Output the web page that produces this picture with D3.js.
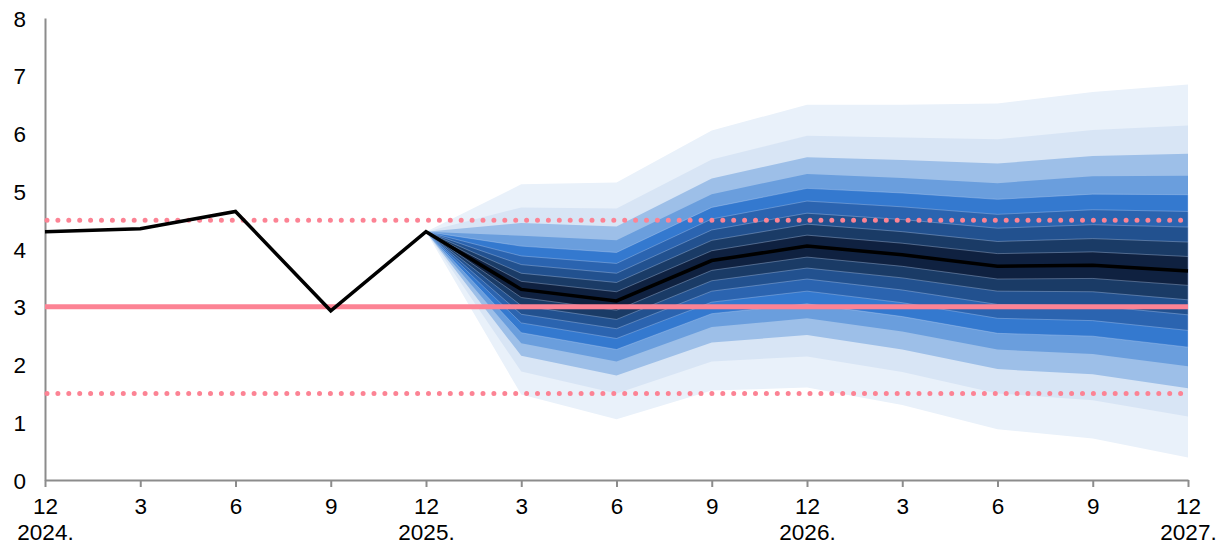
<!DOCTYPE html>
<html>
<head>
<meta charset="utf-8">
<script src="https://cdn.jsdelivr.net/npm/d3@7"></script>
<style>
  body { margin: 0; background: #fff; }
  svg { font-family: "Liberation Sans", Arial, sans-serif; }
  .axis path, .axis line { stroke: #8c8c8c; stroke-width: 2; }
  .axis text { fill: #000; font-size: 22.5px; }
</style>
</head>
<body>
<svg width="1221" height="546"></svg>
<script>
// quarter labels along the x axis
const months = ["12", "3", "6", "9", "12", "3", "6", "9", "12", "3", "6", "9", "12"];
const years = ["2024.", "", "", "", "2025.", "", "", "", "2026.", "", "", "", "2027."];
const yTicks = [0, 1, 2, 3, 4, 5, 6, 7, 8];

// actual + central projection
const inflation = [4.3, 4.35, 4.65, 2.93, 4.3, 3.3, 3.1, 3.8, 4.05, 3.9, 3.7, 3.72, 3.62];

// fan starts at 2025 Q4 (index 4); half widths of each probability band around the centre
const fanStart = 4;
const band90 = [0, 1.82, 2.05, 2.25, 2.45, 2.6, 2.82, 3.0, 3.23];
const band80 = [0, 1.42, 1.6, 1.75, 1.91, 2.03, 2.2, 2.34, 2.52];
const band70 = [0, 1.15, 1.29, 1.42, 1.54, 1.64, 1.78, 1.89, 2.03];
const band60 = [0, 0.93, 1.05, 1.15, 1.25, 1.33, 1.44, 1.54, 1.65];
const band50 = [0, 0.75, 0.84, 0.92, 1.0, 1.07, 1.16, 1.23, 1.32];
const band40 = [0, 0.58, 0.65, 0.72, 0.78, 0.83, 0.9, 0.96, 1.03];
const band30 = [0, 0.43, 0.48, 0.53, 0.57, 0.61, 0.66, 0.7, 0.76];
const band20 = [0, 0.28, 0.32, 0.35, 0.38, 0.4, 0.43, 0.46, 0.5];
const band10 = [0, 0.14, 0.16, 0.17, 0.19, 0.2, 0.22, 0.23, 0.25];
const bandColors = ["#e9f1fa", "#d8e5f5", "#9dbfe8", "#6a9edd", "#3479cf",
                    "#2b64b0", "#22518f", "#1a3b66", "#0f2140"];

// inflation target and tolerance band
const target = 3;
const tolerance = [1.5, 4.5];

const svg = d3.select("svg");
const plotLeft = 45, plotRight = 1188, plotTop = 18, plotBottom = 480;

const x = d3.scaleLinear().domain([0, months.length - 1]).range([plotLeft, plotRight]);
const y = d3.scaleLinear().domain([0, 8]).range([plotBottom, plotTop]);

// Fan, outermost band first
const fanCentre = inflation.slice(fanStart);
const bands = [band90, band80, band70, band60, band50, band40, band30, band20, band10];
bands.forEach(function (hw, i) {
  const area = d3.area()
    .x(function (d, j) { return x(fanStart + j); })
    .y0(function (d, j) { return y(d - hw[j]); })
    .y1(function (d, j) { return y(d + hw[j]); });
  svg.append("path")
    .datum(fanCentre)
    .attr("d", area)
    .attr("fill", bandColors[i])
    .attr("stroke", i >= 4 ? "rgba(190,210,240,0.45)" : "none")
    .attr("stroke-width", 0.8);
});

// Axes
svg.append("g")
  .attr("class", "axis")
  .attr("transform", "translate(0," + plotBottom + ")")
  .call(d3.axisBottom(x).tickValues(d3.range(months.length)).tickSize(7).tickSizeOuter(0)
    .tickFormat(function (d) { return months[d]; }))
  .call(function (g) {
    g.selectAll(".tick text").attr("dy", null).attr("y", 34);
    g.selectAll(".tick").append("text")
      .attr("y", 60)
      .attr("fill", "#000")
      .text(function (d) { return years[d]; });
  });

svg.append("g")
  .attr("class", "axis")
  .attr("transform", "translate(" + plotLeft + ",0)")
  .call(d3.axisLeft(y).tickValues(yTicks).tickSize(0).tickPadding(19))
  .call(function (g) { g.selectAll(".tick text").attr("dy", "0.36em"); });

// Tolerance band (dotted) and target
tolerance.forEach(function (v) {
  svg.append("line")
    .attr("x1", plotLeft + 2).attr("x2", plotRight)
    .attr("y1", y(v)).attr("y2", y(v))
    .attr("stroke", "#fc8394")
    .attr("stroke-width", 5)
    .attr("stroke-linecap", "round")
    .attr("stroke-dasharray", "0 10.9");
});
svg.append("line")
  .attr("x1", plotLeft).attr("x2", plotRight)
  .attr("y1", y(target)).attr("y2", y(target))
  .attr("stroke", "#fc8394")
  .attr("stroke-width", 5);

// Inflation line
svg.append("path")
  .datum(inflation)
  .attr("fill", "none")
  .attr("stroke", "#000")
  .attr("stroke-width", 3.5)
  .attr("stroke-linejoin", "miter")
  .attr("d", d3.line().x(function (d, i) { return x(i); }).y(function (d) { return y(d); }));
</script>
</body>
</html>
